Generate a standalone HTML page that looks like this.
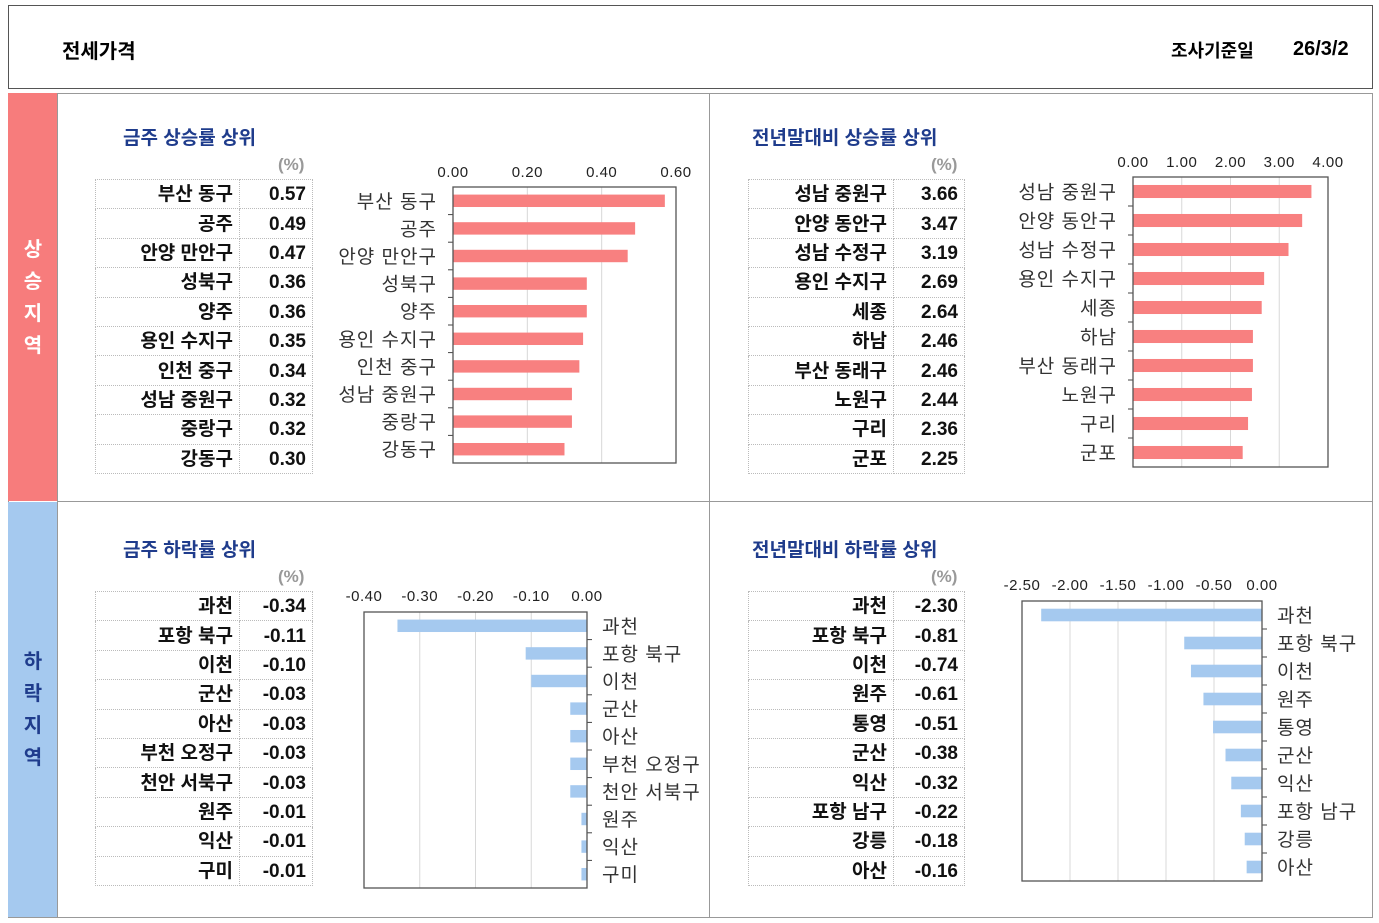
<!DOCTYPE html>
<html><head><meta charset="utf-8">
<style>
body{margin:0;width:1379px;height:923px;background:#fff;position:relative;overflow:hidden;font-family:"Liberation Sans","Noto Sans CJK KR",sans-serif;}
.abs{position:absolute;}
.title{position:absolute;color:#1f3c8c;font-weight:bold;font-size:19px;}
.pct{position:absolute;color:#999;font-size:17px;font-weight:bold;}
table.t{position:absolute;border-collapse:collapse;font-weight:bold;font-size:19px;color:#111;}
table.t td{border:1px dotted #bbb;height:26.4px;padding:2px 6px 0 6px;text-align:right;line-height:26px;}
svg text{font-family:"Liberation Sans","Noto Sans CJK KR",sans-serif;}
</style></head><body>
<div class="abs" style="left:8px;top:5px;width:1363px;height:82px;border:1px solid #555;"></div>
<div class="abs" style="left:62px;top:35px;font-size:20px;font-weight:bold;">전세가격</div>
<div class="abs" style="left:1171px;top:37px;font-size:18px;font-weight:bold;">조사기준일</div>
<div class="abs" style="left:1293px;top:38px;font-size:20px;font-weight:bold;">26/3/2</div>
<div class="abs" style="left:8px;top:93px;width:1363px;height:823px;border:1px solid #999;"></div>
<div class="abs" style="left:8px;top:93px;width:49px;height:408px;background:#f77c7c;"></div>
<div class="abs" style="left:8px;top:502px;width:49px;height:415px;background:#a5c9ef;"></div>
<div class="abs" style="left:22px;top:234px;width:22px;color:#fff;font-weight:bold;font-size:20px;line-height:32px;text-align:center;">상<br>승<br>지<br>역</div>
<div class="abs" style="left:22px;top:646px;width:22px;color:#1f3c8c;font-weight:bold;font-size:20px;line-height:32px;text-align:center;">하<br>락<br>지<br>역</div>
<div class="abs" style="left:57px;top:93px;width:1px;height:824px;background:#999;"></div>
<div class="abs" style="left:709px;top:93px;width:1px;height:824px;background:#999;"></div>
<div class="abs" style="left:57px;top:501px;width:1315px;height:1px;background:#999;"></div>
<div id="root"></div>
<script>
const cats1=["부산 동구","공주","안양 만안구","성북구","양주","용인 수지구","인천 중구","성남 중원구","중랑구","강동구"];
const vals1=[0.57,0.49,0.47,0.36,0.36,0.35,0.34,0.32,0.32,0.30];
const ticks1=[0,0.2,0.4,0.6];
const cats2=["성남 중원구","안양 동안구","성남 수정구","용인 수지구","세종","하남","부산 동래구","노원구","구리","군포"];
const vals2=[3.66,3.47,3.19,2.69,2.64,2.46,2.46,2.44,2.36,2.25];
const ticks2=[0,1,2,3,4];
const cats3=["과천","포항 북구","이천","군산","아산","부천 오정구","천안 서북구","원주","익산","구미"];
const vals3=[-0.34,-0.11,-0.10,-0.03,-0.03,-0.03,-0.03,-0.01,-0.01,-0.01];
const ticks3=[-0.4,-0.3,-0.2,-0.1,0];
const cats4=["과천","포항 북구","이천","원주","통영","군산","익산","포항 남구","강릉","아산"];
const vals4=[-2.30,-0.81,-0.74,-0.61,-0.51,-0.38,-0.32,-0.22,-0.18,-0.16];
const ticks4=[-2.5,-2,-1.5,-1,-0.5,0];

const root=document.getElementById('root');
function panel(o){
  const t=document.createElement('div');t.className='title';t.style.left=o.tx+'px';t.style.top=(o.ty-13)+'px';t.textContent=o.title;
  
  
  root.appendChild(t);
  const p=document.createElement('div');p.className='pct';p.style.left=(o.tbx+183)+'px';p.style.top=(o.tby-24)+'px';p.textContent='(%)';
  
  
  root.appendChild(p);
  const tb=document.createElement('table');tb.className='t';tb.style.left=o.tbx+'px';tb.style.top=o.tby+'px';
  
  
  o.cats.forEach((c,i)=>{const tr=document.createElement('tr');
    
    
    const a=document.createElement('td');a.style.width=(o.c1w-12)+'px';a.textContent=c;
    const b=document.createElement('td');b.style.width=(o.c2w-12)+'px';b.textContent=o.vals[i].toFixed(2);
    tr.appendChild(a);tr.appendChild(b);tb.appendChild(tr);});
  root.appendChild(tb);
  const NS='http://www.w3.org/2000/svg';
  const svg=document.createElementNS(NS,'svg');
  svg.setAttribute('width','1379');svg.setAttribute('height','923');
  svg.style.position='absolute';svg.style.left='0';svg.style.top='0';
  
  
  const min=o.ticks[0],max=o.ticks[o.ticks.length-1];
  const X=v=>o.px+(v-min)/(max-min)*o.pw;
  const n=o.cats.length,band=o.ph/n;
  const Y=i=>o.py+band*i;
  function el(tag,attrs,txt){const e=document.createElementNS(NS,tag);for(const k in attrs)e.setAttribute(k,attrs[k]);if(txt!==undefined)e.textContent=txt;svg.appendChild(e);return e;}
  o.ticks.forEach(t=>{
    const g=el('line',{x1:X(t),x2:X(t),y1:o.py,y2:o.py+o.ph,stroke:'#d8d8d8','stroke-width':1});
    
    
    const tl=el('text',{x:X(t),y:o.tky,'text-anchor':'middle','font-size':15,'letter-spacing':0.5,fill:'#222'},t.toFixed(2));
    
    
  });
  const bh=band*0.45;
  o.cats.forEach((c,i)=>{
    const x0=X(0),x1=X(o.vals[i]);
    const r=el('rect',{x:Math.min(x0,x1),y:Y(i)+band/2-bh/2,width:Math.abs(x1-x0),height:bh,fill:o.color});
    
    
    const lab=el('text',{x:o.neg?o.px+o.pw+15:o.px-16,y:Y(i)+band/2+7,'text-anchor':o.neg?'start':'end','font-size':19,'letter-spacing':1,fill:'#333'},c);
    
    
    if(i>0){const ax=o.neg?o.px+o.pw:o.px;el('line',{x1:ax,x2:ax+(o.neg?5:-5),y1:Y(i),y2:Y(i),stroke:'#444'});}
  });
  el('rect',{x:o.px,y:o.py,width:o.pw,height:o.ph,fill:'none',stroke:'#555','stroke-width':1.3});
  root.appendChild(svg);
}
panel({key:'weekly-rise',title:'금주 상승률 상위',tx:123,ty:136,tbx:95,tby:179,c1w:143,c2w:72,cats:cats1,vals:vals1,ticks:ticks1,px:453,py:187,pw:223,ph:276,tky:177,color:'#f88080',neg:false});
panel({key:'ytd-rise',title:'전년말대비 상승률 상위',tx:752,ty:136,tbx:748,tby:179,c1w:144,c2w:70,cats:cats2,vals:vals2,ticks:ticks2,px:1133,py:177,pw:195,ph:290,tky:167,color:'#f88080',neg:false});
panel({key:'weekly-fall',title:'금주 하락률 상위',tx:123,ty:548,tbx:95,tby:591,c1w:143,c2w:72,cats:cats3,vals:vals3,ticks:ticks3,px:364,py:612,pw:223,ph:276,tky:601,color:'#a5c9ef',neg:true});
panel({key:'ytd-fall',title:'전년말대비 하락률 상위',tx:752,ty:548,tbx:748,tby:591,c1w:144,c2w:70,cats:cats4,vals:vals4,ticks:ticks4,px:1022,py:601,pw:240,ph:280,tky:590,color:'#a5c9ef',neg:true});
</script>
</body></html>
